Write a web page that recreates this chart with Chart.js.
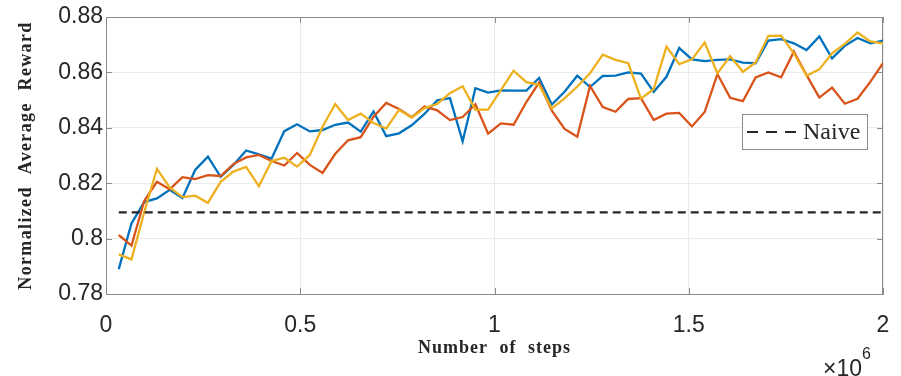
<!DOCTYPE html>
<html>
<head>
<meta charset="utf-8">
<script src="https://cdn.jsdelivr.net/npm/chart.js@4/dist/chart.umd.min.js"></script>
<style>
  html, body { margin: 0; padding: 0; background: #ffffff; }
  #wrap { width: 901px; height: 376px; position: relative; }
</style>
</head>
<body>
<div id="wrap"><canvas id="c" width="901" height="376"></canvas></div>
<script>
// ---- data ----
const steps = [32787, 65574, 98361, 131148, 163934, 196721, 229508, 262295, 295082, 327869,
  360656, 393443, 426230, 459016, 491803, 524590, 557377, 590164, 622951, 655738,
  688525, 721311, 754098, 786885, 819672, 852459, 885246, 918033, 950820, 983607,
  1016393, 1049180, 1081967, 1114754, 1147541, 1180328, 1213115, 1245902, 1278689, 1311475,
  1344262, 1377049, 1409836, 1442623, 1475410, 1508197, 1540984, 1573770, 1606557, 1639344,
  1672131, 1704918, 1737705, 1770492, 1803279, 1836066, 1868852, 1901639, 1934426, 1967213,
  2000000];

const blueSeries = [0.7890, 0.8055, 0.8132, 0.8145, 0.8176, 0.8146, 0.8248, 0.8296, 0.8223, 0.8266,
  0.8318, 0.8304, 0.8289, 0.8388, 0.8413, 0.8387, 0.8392, 0.8411, 0.8419, 0.8386,
  0.8459, 0.8370, 0.8380, 0.8409, 0.8450, 0.8499, 0.8507, 0.8351, 0.8543, 0.8527,
  0.8535, 0.8534, 0.8534, 0.8580, 0.8484, 0.8530, 0.8588, 0.8547, 0.8587, 0.8588,
  0.8600, 0.8596, 0.8530, 0.8584, 0.8688, 0.8647, 0.8641, 0.8645, 0.8647, 0.8635,
  0.8633, 0.8715, 0.8720, 0.8705, 0.8681, 0.8730, 0.8651, 0.8696, 0.8724, 0.8705,
  0.8715];

const redSeries = [0.8013, 0.7975, 0.8136, 0.8205, 0.8178, 0.8222, 0.8215, 0.8229, 0.8226, 0.8269,
  0.8293, 0.8302, 0.8280, 0.8264, 0.8309, 0.8266, 0.8237, 0.8306, 0.8355, 0.8366,
  0.8440, 0.8490, 0.8468, 0.8438, 0.8477, 0.8463, 0.8428, 0.8439, 0.8485, 0.8379,
  0.8416, 0.8411, 0.8493, 0.8563, 0.8462, 0.8396, 0.8368, 0.8551, 0.8475, 0.8458,
  0.8504, 0.8507, 0.8428, 0.8451, 0.8454, 0.8405, 0.8457, 0.8594, 0.8508, 0.8496,
  0.8582, 0.8600, 0.8582, 0.8675, 0.8590, 0.8509, 0.8545, 0.8487, 0.8505, 0.8566,
  0.8633];

const yellowSeries = [0.7943, 0.7925, 0.8095, 0.8252, 0.8185, 0.8150, 0.8155, 0.8129, 0.8205, 0.8242,
  0.8259, 0.8189, 0.8280, 0.8292, 0.8260, 0.8302, 0.8404, 0.8486, 0.8428, 0.8451,
  0.8417, 0.8397, 0.8465, 0.8437, 0.8471, 0.8486, 0.8525, 0.8550, 0.8465, 0.8466,
  0.8536, 0.8606, 0.8565, 0.8555, 0.8470, 0.8506, 0.8549, 0.8597, 0.8664, 0.8645,
  0.8633, 0.8505, 0.8540, 0.8693, 0.8630, 0.8647, 0.8708, 0.8596, 0.8659, 0.8602,
  0.8636, 0.8732, 0.8733, 0.8669, 0.8588, 0.8611, 0.8669, 0.8703, 0.8744, 0.8712,
  0.8705];

const naiveX = [32787, 2000000];
const naiveY = [0.8095, 0.8095];

const xTicks = [0, 500000, 1000000, 1500000, 2000000];
const yTicks = [0.78, 0.80, 0.82, 0.84, 0.86, 0.88];

const xTitle = 'Number of steps';
const yTitle = 'Normalized Average Reward';
const naiveLabel = 'Naive';

// ---- build ----
const pts = (xs, ys) => xs.map((x, i) => ({ x: x, y: ys[i] }));
const TXT = '#262626';
const AX = '#8a8a8a';
const GRID = '#ebebeb';

const decor = {
  id: 'decor',
  beforeDatasetsDraw(chart) {
    const { ctx, chartArea: a } = chart;
    ctx.save();
    ctx.strokeStyle = AX;
    ctx.lineWidth = 1;
    ctx.beginPath();
    ctx.moveTo(a.left, a.top + 0.5); ctx.lineTo(a.right, a.top + 0.5);
    ctx.moveTo(a.right - 0.5, a.top); ctx.lineTo(a.right - 0.5, a.bottom);
    const xs = chart.scales.x, ys = chart.scales.y;
    xTicks.forEach(v => {
      const px = Math.round(xs.getPixelForValue(v)) + 0.5;
      ctx.moveTo(px, a.bottom); ctx.lineTo(px, a.bottom - 6);
      ctx.moveTo(px, a.top); ctx.lineTo(px, a.top + 6);
    });
    yTicks.forEach(v => {
      const py = Math.round(ys.getPixelForValue(v)) + 0.5;
      ctx.moveTo(a.left, py); ctx.lineTo(a.left + 6, py);
      ctx.moveTo(a.right, py); ctx.lineTo(a.right - 6, py);
    });
    ctx.stroke();
    ctx.restore();
  },
  afterDraw(chart) {
    const { ctx, chartArea: a } = chart;
    ctx.save();
    // axis titles
    ctx.fillStyle = TXT;
    ctx.font = 'bold 18px "Liberation Serif", "Times New Roman", serif';
    ctx.letterSpacing = '1px';
    ctx.wordSpacing = '6px';
    ctx.textAlign = 'center';
    ctx.textBaseline = 'middle';
    ctx.fillText(xTitle, (a.left + a.right) / 2, 348);
    ctx.save();
    ctx.letterSpacing = '1.35px';
    ctx.translate(26, (a.top + a.bottom) / 2);
    ctx.rotate(-Math.PI / 2);
    ctx.fillText(yTitle, 0, 0);
    ctx.restore();
    ctx.letterSpacing = '0px';
    ctx.wordSpacing = '0px';
    // x10^6 multiplier
    ctx.font = '23px "Liberation Sans", Arial, sans-serif';
    ctx.textAlign = 'right';
    ctx.textBaseline = 'alphabetic';
    ctx.fillText('\u00d710', 862, 376);
    ctx.font = '16px "Liberation Sans", Arial, sans-serif';
    ctx.textAlign = 'left';
    ctx.fillText('6', 862, 359);
    // legend
    const ds = chart.data.datasets[3];
    const bx = 742.5, by = 114.5, bw = 125, bh = 35;
    ctx.fillStyle = '#ffffff';
    ctx.fillRect(bx, by, bw, bh);
    ctx.strokeStyle = '#8c8c8c';
    ctx.lineWidth = 1;
    ctx.strokeRect(bx, by, bw, bh);
    ctx.strokeStyle = ds.borderColor;
    ctx.lineWidth = ds.borderWidth;
    ctx.setLineDash([11, 8]);
    ctx.beginPath();
    ctx.moveTo(747, by + bh / 2);
    ctx.lineTo(797, by + bh / 2);
    ctx.stroke();
    ctx.setLineDash([]);
    ctx.fillStyle = TXT;
    ctx.font = '24px "Liberation Serif", "Times New Roman", serif';
    ctx.textAlign = 'left';
    ctx.textBaseline = 'middle';
    ctx.fillText(ds.label, 803, by + bh / 2 + 1);
    ctx.restore();
  }
};

new Chart(document.getElementById('c'), {
  type: 'line',
  data: {
    datasets: [
      { label: 'Series 1', data: pts(steps, blueSeries), borderColor: '#0072BD', borderWidth: 2.3, pointRadius: 0, tension: 0, order: 3 },
      { label: 'Series 2', data: pts(steps, redSeries), borderColor: '#D95319', borderWidth: 2.3, pointRadius: 0, tension: 0, order: 2 },
      { label: 'Series 3', data: pts(steps, yellowSeries), borderColor: '#EDB120', borderWidth: 2.3, pointRadius: 0, tension: 0, order: 1 },
      { label: naiveLabel, data: pts(naiveX, naiveY), borderColor: '#262626', borderWidth: 2.2, borderDash: [8, 5], pointRadius: 0, tension: 0, order: 0 }
    ]
  },
  options: {
    responsive: false,
    animation: false,
    devicePixelRatio: 1,
    layout: { padding: { left: 0, right: 18, top: 17, bottom: 0 } },
    plugins: { legend: { display: false }, tooltip: { enabled: false } },
    scales: {
      x: {
        type: 'linear', min: 0, max: 2000000,
        afterFit(s) { s.height = 82; s.paddingLeft = 0; s.paddingRight = 0; },
        afterBuildTicks(s) { s.ticks = xTicks.map(v => ({ value: v })); },
        grid: { color: GRID, lineWidth: 1, tickLength: 0, drawTicks: false },
        border: { color: AX, width: 1 },
        ticks: {
          color: TXT, padding: 18, maxRotation: 0,
          font: { family: '"Liberation Sans", Arial, sans-serif', size: 23 },
          callback: v => String(v / 1000000)
        }
      },
      y: {
        type: 'linear', min: 0.78, max: 0.88,
        afterFit(s) { s.width = 106; s.paddingTop = 0; s.paddingBottom = 0; },
        afterBuildTicks(s) { s.ticks = yTicks.map(v => ({ value: v })); },
        grid: { color: GRID, lineWidth: 1, tickLength: 0, drawTicks: false },
        border: { color: AX, width: 1 },
        ticks: {
          color: TXT, padding: 3,
          font: { family: '"Liberation Sans", Arial, sans-serif', size: 23 },
          callback: v => String(Number(v.toFixed(2)))
        }
      }
    }
  },
  plugins: [decor]
});
</script>
</body>
</html>
